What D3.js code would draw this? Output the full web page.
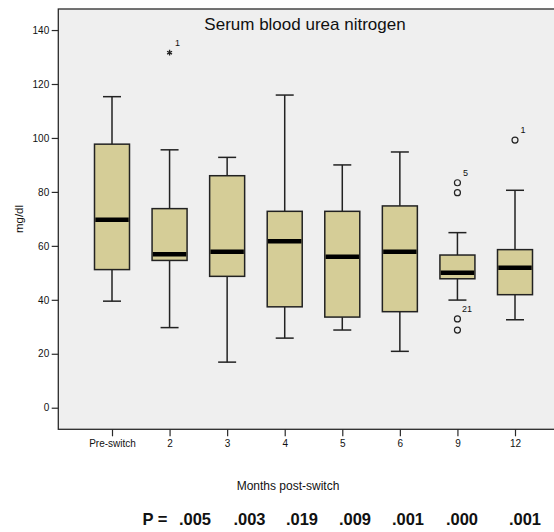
<!DOCTYPE html>
<html>
<head>
<meta charset="utf-8">
<script src="https://cdn.jsdelivr.net/npm/d3@7"></script>
<style>
  html, body { margin: 0; padding: 0; background: #ffffff; }
  svg { display: block; }
  text { font-family: "Liberation Sans", Arial, sans-serif; fill: #111; }
</style>
</head>
<body>
<svg id="chart" width="554" height="532"></svg>
<script>
// Box summary per time point (mg/dl)
const categories  = ["Pre-switch", "2", "3", "4", "5", "6", "9", "12"];
const whiskerLow  = [39.5, 29.7, 16.9, 25.8, 28.8, 20.9, 39.9, 32.6];
const quartile1   = [51.2, 54.6, 48.7, 37.4, 33.6, 35.6, 47.8, 41.9];
const medians     = [69.7, 56.9, 57.8, 61.7, 56.0, 57.8, 50.0, 51.9];
const quartile3   = [97.7, 73.8, 86.0, 72.8, 72.8, 74.8, 56.6, 58.6];
const whiskerHigh = [115.3, 95.6, 92.8, 115.9, 90.0, 94.8, 64.9, 80.6];

// Outlying cases: category, value, marker kind, case number
const outlierCategory = ["2", "9", "9", "9", "9", "12"];
const outlierValue    = [131.6, 83.4, 79.7, 32.9, 28.8, 99.2];
const outlierKind     = ["extreme", "outlier", "outlier", "outlier", "outlier", "outlier"];
const outlierCase     = ["1", "5", "", "21", "", "1"];

const yTicks  = [0, 20, 40, 60, 80, 100, 120, 140];
const pValues = [".005", ".003", ".019", ".009", ".001", ".000", ".001"];

// Layout
const frame = { left: 58.3, top: 9, right: 580, bottom: 429.3 };
const boxWidth = 35;
const capWidth = 18;
const pLabelX = [195, 249.5, 302, 355, 408, 462, 525];

const svg = d3.select("#chart");

const x = d3.scalePoint().domain(categories).range([112, 515]);
const y = d3.scaleLinear().domain([-8, 147.8]).range([frame.bottom, frame.top]);

// Plot area
svg.append("rect")
  .attr("x", frame.left).attr("y", frame.top)
  .attr("width", frame.right - frame.left).attr("height", frame.bottom - frame.top)
  .attr("fill", "#efefef").attr("stroke", "#2a2a2a").attr("stroke-width", 1.3);

// Axes
const yAxis = svg.append("g")
  .attr("transform", `translate(${frame.left},0)`)
  .call(d3.axisLeft(y).tickValues(yTicks).tickSize(6.6).tickPadding(2.5).tickSizeOuter(0));
yAxis.select(".domain").remove();
yAxis.selectAll(".tick line").attr("stroke", "#2a2a2a").attr("stroke-width", 1.2);
yAxis.selectAll(".tick text")
  .style("font-family", "'Liberation Sans', Arial, sans-serif")
  .style("font-size", "10px").attr("fill", "#222");

const xAxis = svg.append("g")
  .attr("transform", `translate(0,${frame.bottom})`)
  .call(d3.axisBottom(x).tickSize(7).tickPadding(4).tickSizeOuter(0));
xAxis.select(".domain").remove();
xAxis.selectAll(".tick line").attr("stroke", "#2a2a2a").attr("stroke-width", 1.2);
xAxis.selectAll(".tick text")
  .style("font-family", "'Liberation Sans', Arial, sans-serif")
  .style("font-size", "10px").attr("fill", "#222");

// Boxes
const boxes = categories.map((c, i) => ({
  c, lo: whiskerLow[i], q1: quartile1[i], med: medians[i], q3: quartile3[i], hi: whiskerHigh[i]
}));

const g = svg.append("g").attr("stroke", "#222").attr("stroke-width", 1.5);

const box = g.selectAll("g.box").data(boxes).join("g").attr("class", "box");

// whisker stems
box.append("line")
  .attr("x1", d => x(d.c)).attr("x2", d => x(d.c))
  .attr("y1", d => y(d.hi)).attr("y2", d => y(d.q3));
box.append("line")
  .attr("x1", d => x(d.c)).attr("x2", d => x(d.c))
  .attr("y1", d => y(d.q1)).attr("y2", d => y(d.lo));
// whisker caps
box.append("line")
  .attr("x1", d => x(d.c) - capWidth / 2).attr("x2", d => x(d.c) + capWidth / 2)
  .attr("y1", d => y(d.hi)).attr("y2", d => y(d.hi));
box.append("line")
  .attr("x1", d => x(d.c) - capWidth / 2).attr("x2", d => x(d.c) + capWidth / 2)
  .attr("y1", d => y(d.lo)).attr("y2", d => y(d.lo));
// interquartile box
box.append("rect")
  .attr("x", d => x(d.c) - boxWidth / 2).attr("width", boxWidth)
  .attr("y", d => y(d.q3)).attr("height", d => y(d.q1) - y(d.q3))
  .attr("fill", "#d5cd97");
// median
box.append("line")
  .attr("x1", d => x(d.c) - boxWidth / 2 + 0.8).attr("x2", d => x(d.c) + boxWidth / 2 - 0.8)
  .attr("y1", d => y(d.med)).attr("y2", d => y(d.med))
  .attr("stroke", "#000").attr("stroke-width", 4.5);

// Outliers
const outliers = outlierValue.map((v, i) => ({
  c: outlierCategory[i], v, kind: outlierKind[i], label: outlierCase[i]
}));

const og = svg.append("g");
og.selectAll("circle").data(outliers.filter(d => d.kind === "outlier")).join("circle")
  .attr("cx", d => x(d.c)).attr("cy", d => y(d.v)).attr("r", 3)
  .attr("fill", "none").attr("stroke", "#222").attr("stroke-width", 1.2);

const starSymbol = d3.symbolAsterisk || d3.symbolCross;
og.selectAll("path.extreme").data(outliers.filter(d => d.kind === "extreme")).join("path")
  .attr("class", "extreme")
  .attr("transform", d => `translate(${x(d.c)},${y(d.v)})`)
  .attr("d", d3.symbol(starSymbol, 22))
  .attr("fill", "#222").attr("stroke", "#222").attr("stroke-width", 1.3);

og.selectAll("text").data(outliers.filter(d => d.label)).join("text")
  .attr("x", d => x(d.c) + (d.label.length > 1 ? 4.5 : 5.5))
  .attr("y", d => y(d.v) - 7)
  .style("font-size", "9px").attr("fill", "#333")
  .text(d => d.label);

// Titles
svg.append("text")
  .attr("x", 305).attr("y", 30).attr("text-anchor", "middle")
  .style("font-size", "17px").attr("fill", "#111")
  .text("Serum blood urea nitrogen");

svg.append("text")
  .attr("transform", "translate(23,219) rotate(-90)").attr("text-anchor", "middle")
  .style("font-size", "11.5px").attr("fill", "#222")
  .text("mg/dl");

svg.append("text")
  .attr("x", 288).attr("y", 490).attr("text-anchor", "middle")
  .style("font-size", "12px").attr("fill", "#222")
  .text("Months post-switch");

// P-value row
svg.append("text")
  .attr("x", 142.5).attr("y", 525)
  .style("font-size", "16.5px").style("font-weight", "bold").attr("fill", "#111")
  .text("P =");
svg.selectAll("text.pval").data(pValues).join("text")
  .attr("class", "pval")
  .attr("x", (d, i) => pLabelX[i]).attr("y", 525).attr("text-anchor", "middle")
  .style("font-size", "16.5px").style("font-weight", "bold").attr("fill", "#111")
  .text(d => d);
</script>
</body>
</html>
